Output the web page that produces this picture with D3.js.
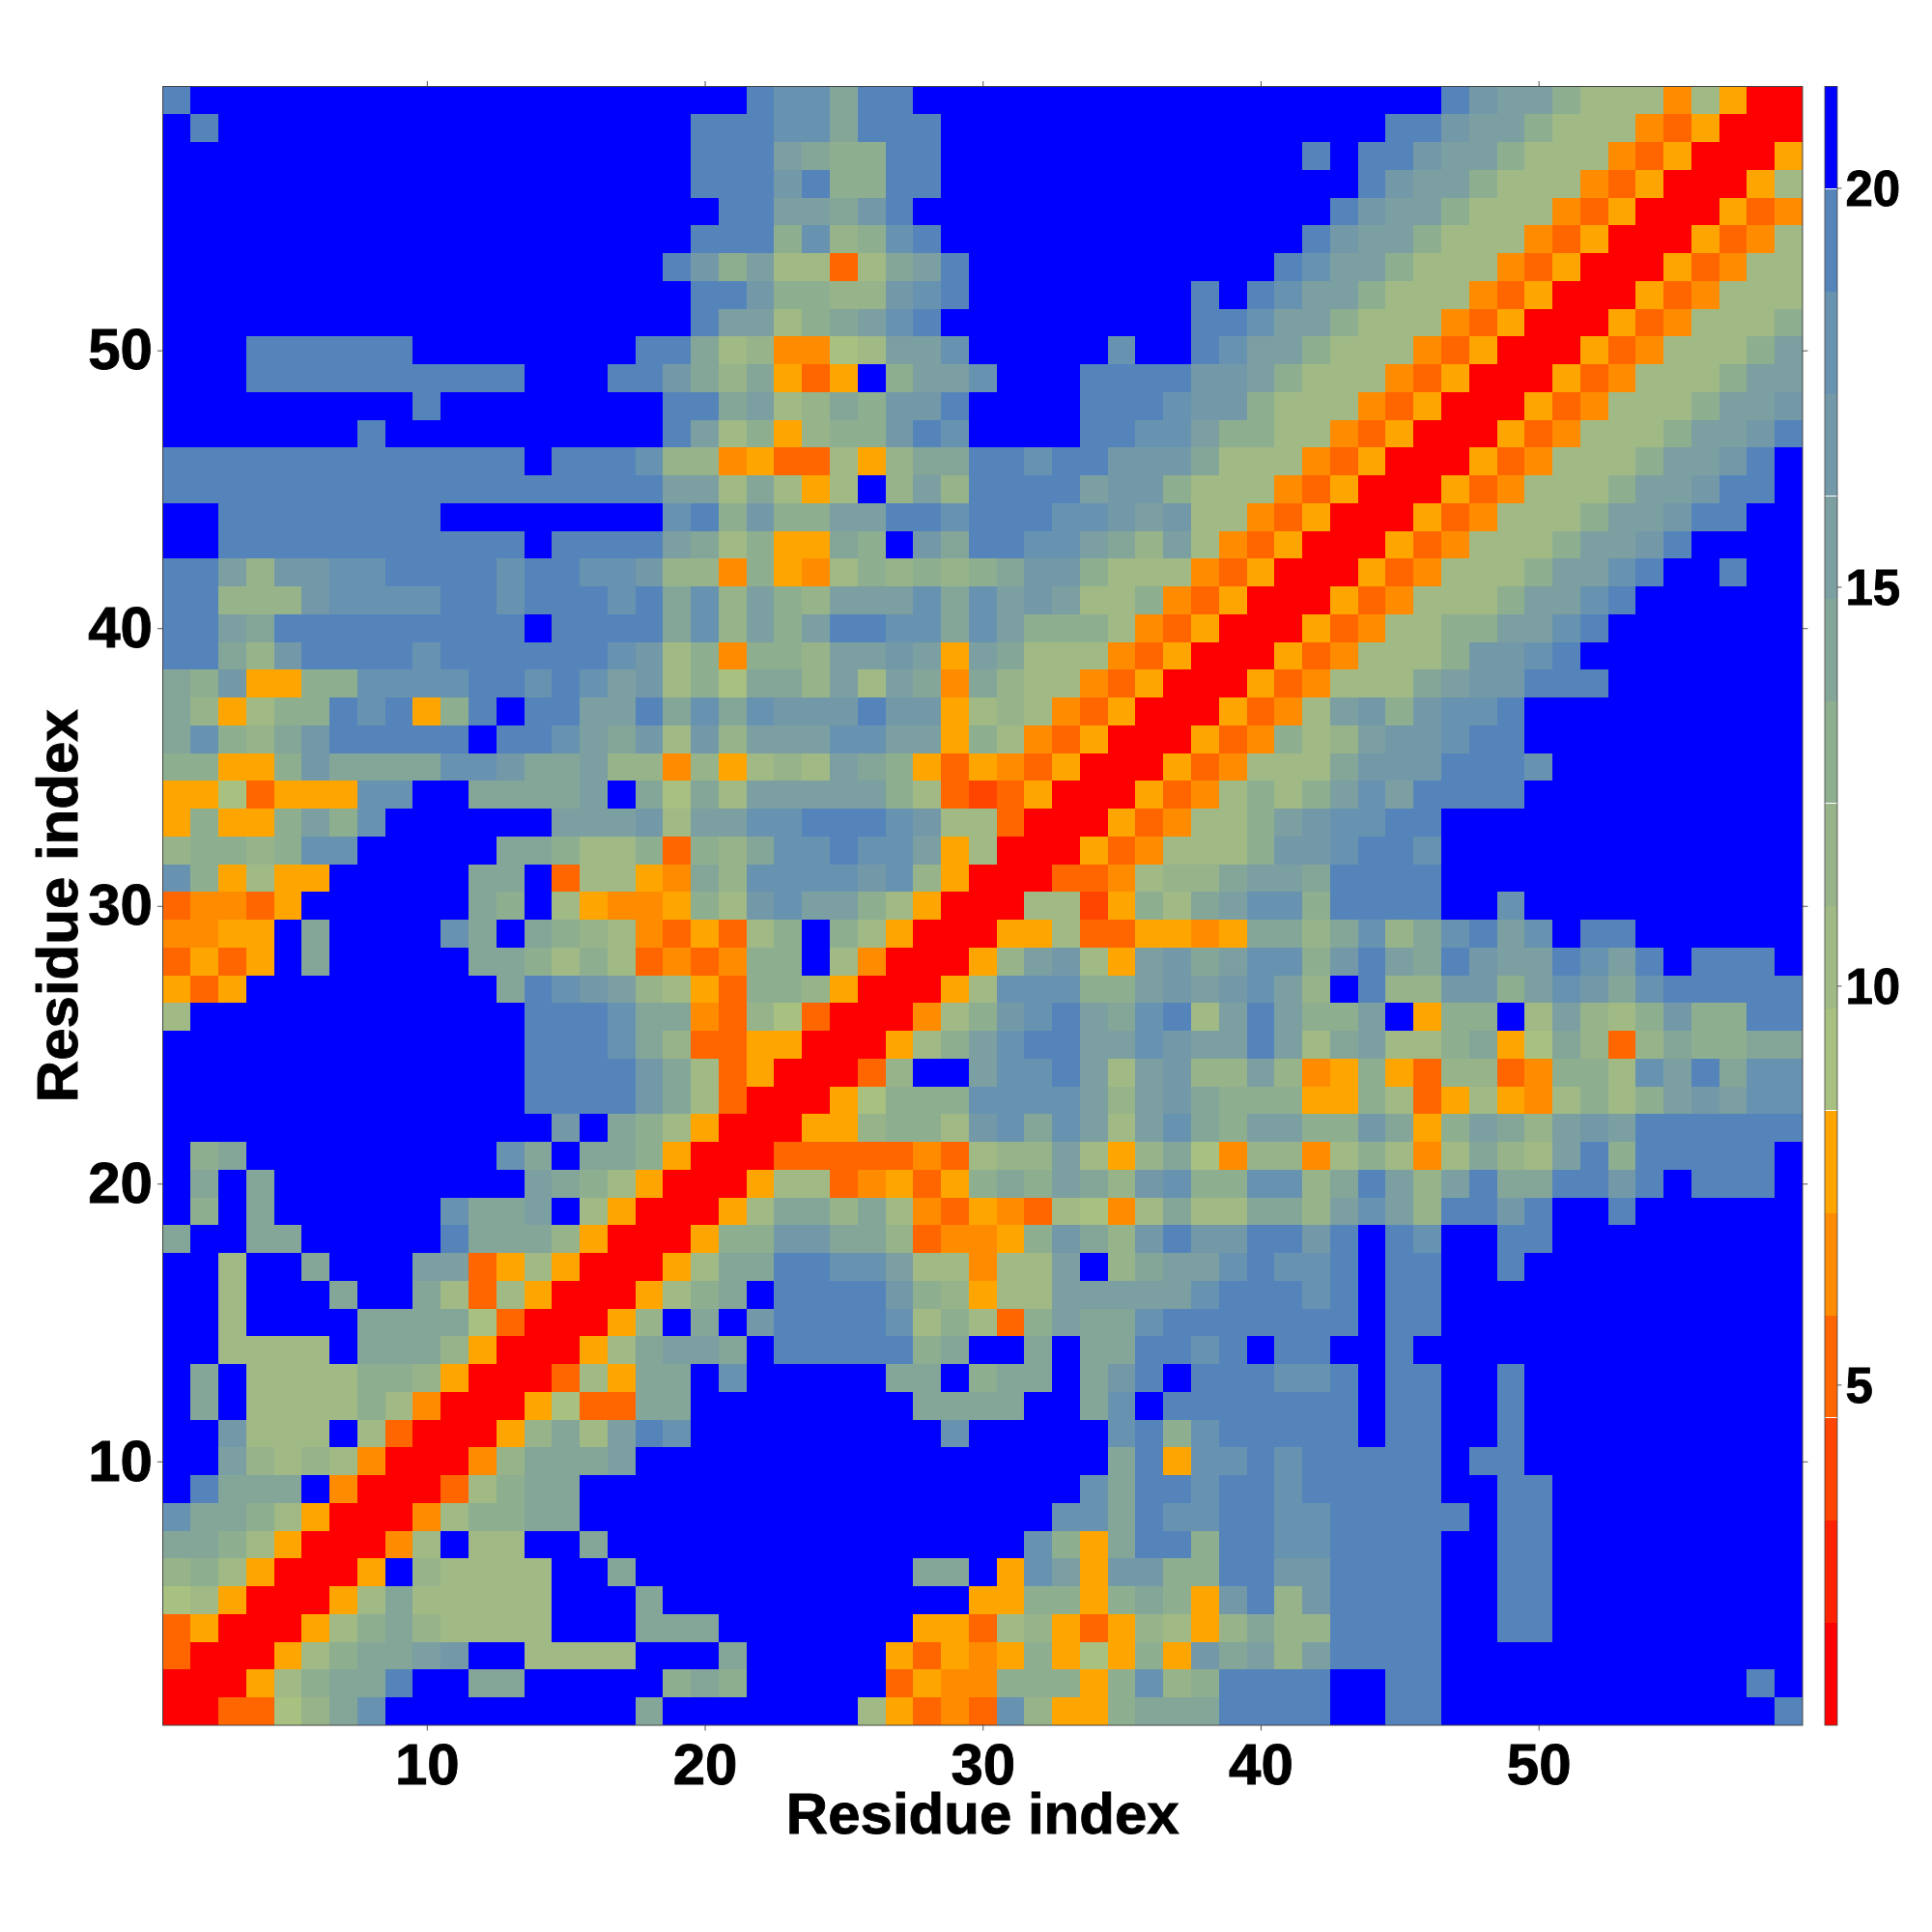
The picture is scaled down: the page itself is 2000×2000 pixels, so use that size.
<!DOCTYPE html>
<html>
<head>
<meta charset="utf-8">
<script src="https://cdn.jsdelivr.net/npm/d3@7"></script>
<style>
html,body{margin:0;padding:0;background:#fff;}
svg{display:block;}
text{font-family:"Liberation Sans",Arial,sans-serif;font-weight:bold;fill:#000;stroke:#000;stroke-width:0.9px;}
</style>
</head>
<body>
<div id="chart"></div>
<script>
// Upper triangle of the symmetric map. Each row starts on the diagonal.
// Characters are colour-bar bands, 0 (red, shortest distance) to f (blue, longest).
const upperRows = [
"003368adff fffffffaff fffff75343 d8559aaaee eeffeeffff ffffffffe",
"00579aaef faafffff9a 9fffff3544 99959d89ee eeffeeffff fffffffef",
"00579aab cff7777fff afffff5354 5956595cab 8beeeeffff fffffffff",
"00579a8 7777fffaaa fffffff553 785358758a 88eeeeffee fffffffff",
"0057a7 7777fffaff fffffffff5 59959a95ce 8ceeeeffee fffffffff",
"005f8 7777ffafff fffffffaaf 5db5cc99ee cceeeeffee fffffffff",
"0047 f77ffaffff ffffffffff fd95aee9ee ddeeeeffee fffffffff",
"004 799aafffff ffffffffff ffddaeddee ddeeeeefee fffffffff",
"00 379aafffff ffffffffff fffdaeedee deeeeeffee fffffffff",
"0 048aaabfff ffffffffff ffffae5dde deeeeefeef fffffffff",
"0058a7bedf ffffffffdf ffffde9dee eeefeeffef fffffffff",
"005633aaf fffffffaaa affadfeeee eeefeeffef fffffffff",
"00375aaf dfffffaaf9 aafacefeee ddefeeffef fffffffff",
"0057abb afeeeee9af fafaaeedef eeffefffff fffffffff",
"0058fa fceeeed797 39baadeeee eeefeeffff fffffffff",
"00579 afeeeec985 77bbbbbdee edefeeffff fffffffff",
"0057 aaeeddb774 77bf8abbde ddefeeffef fffffffff",
"005 99ccaa8344 59ca8cecce ecefedffee fffffffff",
"00 57aa8a7435 437647a77a a8bdb8eece ffeffffff",
"0 0577345359 a9ba8cd99d d8aeb8beaa eecefeeef",
"0033333437 88b758a648 8479747a87 be9eeeeef",
"00558997c dadb7bda9b b99ca59ba8 bcbeeeeee",
"0056999d dddb8bca99 9559735754 7979bcbdd",
"0038ffb ddeb7bc88b 8459538834 997dbeadd",
"00579b deebbdcbbe b7ab779a56 a838a99aa",
"00479 cdebade7be b99bf599f7 b879c99ee",
"0057 ddd99bcbcd b8fe88cc9b dcadeeeee",
"005 8bc75bcabd d9cebaecbb edbefeeef",
"00 557335545a a8ad8adebd feeffffff",
"0 0772597abd d9eeeeffdf fffffffff",
"00334788ab baeeeeffff fffffffff",
"005347779 ccdeedffff fffffffff",
"00534779 bcddeeffff fffffffff",
"0053479 79bdbeeeef fffffffff",
"005347 77accceeed fffffffff",
"00534 978bccdeef fffffffff",
"0053 47bc9cddef fffffffff",
"005 34777abcce eefffffff",
"00 5347779ccd effffffff",
"0 05347799bb defffffff",
"005347779b bdeffffff",
"005347779 bbdeffeff",
"00534777 9bbceffff",
"0053477 79bbceeff",
"005347 779bbceef",
"00534 7779bbcef",
"0053 47779bbce",
"005 347779bbc",
"00 5347779bb",
"0 05347779b",
"005347779",
"00534777",
"0053477",
"005347",
"00534",
"0057",
"005",
"00",
"0"
];

// Colour bar bands, shortest distance first.
const bandColors = [
"#ff0000","#ff2200","#ff4500","#ff6600","#ff8c00","#ffa500",
"#a8c080","#a0b985","#97b38a","#8eae90","#84a699","#7c9fa1",
"#7399a8","#6893b0","#5584bb","#0000ff"
];
// Mid value of each band, in the colour bar's units.
const bandValues = [1.37,2.66,3.94,5.23,6.51,7.79,9.08,10.36,11.64,12.93,14.21,15.49,16.78,18.06,19.34,20.63];
const valueDomain = [0.73,21.27];

const axisTicks = [10,20,30,40,50];
const colorbarTicks = [5,10,15,20];
const axisLabel = "Residue index";

const W = 2000, H = 2000;
const plot = {left:168.5, right:1866, top:89.5, bottom:1786};
const bar = {left:1889, right:1902};

const svg = d3.select("#chart").append("svg").attr("width",W).attr("height",H).attr("viewBox",`0 0 ${W} ${H}`);
svg.append("rect").attr("width",W).attr("height",H).attr("fill","#fff");

const x = d3.scaleLinear().domain([0.5,59.5]).range([plot.left,plot.right]);
const y = d3.scaleLinear().domain([0.5,59.5]).range([plot.bottom,plot.top]);
const color = d3.scaleQuantize().domain(valueDomain).range(bandColors);
const rx = v=>Math.round(x(v)), ry = v=>Math.round(y(v));

const cells = [];
upperRows.forEach((row,i)=>{
  const codes = row.replace(/\s/g,"");
  Array.from(codes).forEach((c,k)=>{
    const a=i+1, b=i+1+k, v=bandValues[parseInt(c,16)];
    cells.push({col:b,row:a,v});
    if(a!==b) cells.push({col:a,row:b,v});
  });
});

svg.append("g").selectAll("rect").data(cells).join("rect")
  .attr("x",d=>rx(d.col-0.5))
  .attr("y",d=>ry(d.row+0.5))
  .attr("width",d=>rx(d.col+0.5)-rx(d.col-0.5))
  .attr("height",d=>ry(d.row-0.5)-ry(d.row+0.5))
  .attr("fill",d=>color(d.v))
  .attr("shape-rendering","crispEdges");

function styleAxis(g){
  g.select(".domain").remove();
  g.selectAll(".tick line").attr("stroke","#555").attr("stroke-width",1);
}
const tickLen = 5.5, tickFont = 60;
svg.append("g").attr("transform",`translate(0,${plot.bottom})`)
  .call(d3.axisBottom(x).tickValues(axisTicks).tickSize(tickLen).tickPadding(13))
  .call(styleAxis).selectAll("text").attr("font-size",tickFont);
svg.append("g").attr("transform",`translate(${plot.left},0)`)
  .call(d3.axisLeft(y).tickValues(axisTicks).tickSize(tickLen).tickPadding(5))
  .call(styleAxis).selectAll("text").attr("font-size",tickFont);
svg.append("g").attr("transform",`translate(0,${plot.top})`)
  .call(d3.axisTop(x).tickValues(axisTicks).tickSize(tickLen).tickFormat(""))
  .call(styleAxis);
svg.append("g").attr("transform",`translate(${plot.right},0)`)
  .call(d3.axisRight(y).tickValues(axisTicks).tickSize(tickLen).tickFormat(""))
  .call(styleAxis);

svg.append("rect")
  .attr("x",plot.left).attr("y",plot.top)
  .attr("width",plot.right-plot.left).attr("height",plot.bottom-plot.top)
  .attr("fill","none").attr("stroke","#444").attr("stroke-width",1);

svg.append("text").attr("x",(plot.left+plot.right)/2).attr("y",1898)
  .attr("text-anchor","middle").attr("font-size",60).text(axisLabel);
svg.append("text").attr("transform",`translate(80,${(plot.top+plot.bottom)/2}) rotate(-90)`)
  .attr("text-anchor","middle").attr("font-size",60).text(axisLabel);

// Colour bar
const cy = d3.scaleLinear().domain(valueDomain).range([plot.bottom,plot.top]);
const step = (valueDomain[1]-valueDomain[0])/bandColors.length;
svg.append("g").selectAll("rect").data(bandValues).join("rect")
  .attr("x",bar.left).attr("width",bar.right-bar.left)
  .attr("y",d=>Math.round(cy(d+step/2)))
  .attr("height",d=>Math.round(cy(d-step/2))-Math.round(cy(d+step/2)))
  .attr("fill",d=>color(d)).attr("shape-rendering","crispEdges");
svg.append("rect").attr("x",bar.left).attr("y",plot.top)
  .attr("width",bar.right-bar.left).attr("height",plot.bottom-plot.top)
  .attr("fill","none").attr("stroke","#444").attr("stroke-width",0.8);
svg.append("g").attr("transform",`translate(${bar.right},0)`)
  .call(d3.axisRight(cy).tickValues(colorbarTicks).tickSize(4.5).tickPadding(4))
  .call(styleAxis).selectAll("text").attr("font-size",51).attr("dy","0.36em");
</script>
</body>
</html>
